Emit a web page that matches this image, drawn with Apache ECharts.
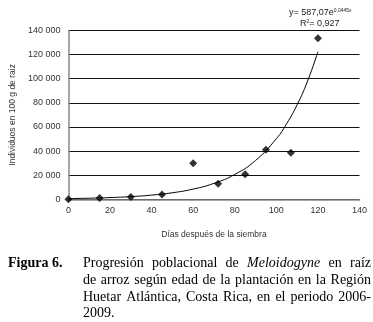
<!DOCTYPE html>
<html><head><meta charset="utf-8">
<script src="https://cdn.jsdelivr.net/npm/echarts@6/dist/echarts.min.js"></script>
<style>html,body{margin:0;padding:0;background:#fff}#c{width:373px;height:322px}</style>
</head><body><div id="c"></div>
<script>
var days = [0, 15, 30, 45, 60, 72, 85, 95, 107, 120];
var individuos = [0, 1000, 2000, 4000, 30000, 12800, 20800, 41000, 38700, 133500];
var trendDays = [0, 10, 20, 30, 40, 50, 60, 70, 80, 90, 100, 105, 110, 115, 120];
var trendValues = [587, 916, 1430, 2231, 3481, 5432, 8477, 13228, 20643, 32212, 50270, 62790, 78440, 97980, 122400];
var xTicks = [0, 20, 40, 60, 80, 100, 120, 140];
var yTicks = [0, 20000, 40000, 60000, 80000, 100000, 120000, 140000];
var xTitle = 'Días después de la siembra';
var yTitle = 'Individuos en 100 g de raiz';
var captionLabel = 'Figura 6.';
var captionLines = [
  [['Progresión',0],['poblacional',0],['de',0],['Meloidogyne',1],['en',0],['raíz',0]],
  [['de',0],['arroz',0],['según',0],['edad',0],['de',0],['la',0],['plantación',0],['en',0],['la',0],['Región',0]],
  [['Huetar',0],['Atlántica,',0],['Costa',0],['Rica,',0],['en',0],['el',0],['periodo',0],['2006-',0]],
  [['2009.',0]]
];

var chart = echarts.init(document.getElementById('c'));
function fmt(v){ return String(v).replace(/\B(?=(\d{3})+(?!\d))/g, ' '); }

var ctx = document.createElement('canvas').getContext('2d');
var serif = '"Liberation Serif","Times New Roman",serif';
var fs = 14;
var graphics = [];
var x0 = 83, x1 = 371, tops = [256.5, 273.5, 290, 306.5];
graphics.push({type:'text', x:8, y:tops[0], style:{text:captionLabel, font:'bold '+fs+'px '+serif, fill:'#000', textVerticalAlign:'top'}});
captionLines.forEach(function(line, li){
  var widths = line.map(function(w){ ctx.font = (w[1]?'italic ':'')+fs+'px '+serif; return ctx.measureText(w[0]).width; });
  var total = widths.reduce(function(a,b){return a+b;},0);
  var justify = li < captionLines.length-1 && line.length>1;
  var gap = justify ? (x1-x0-total)/(line.length-1) : ctx.measureText(' ').width;
  var x = x0;
  line.forEach(function(w,i){
    graphics.push({type:'text', x:x, y:tops[li], style:{text:w[0], font:(w[1]?'italic ':'')+fs+'px '+serif, fill:'#000', textVerticalAlign:'top'}});
    x += widths[i] + gap;
  });
});
graphics.push({type:'text', x:289, y:8, style:{
  rich:{n:{fontSize:9, fontFamily:'Liberation Sans, Arial', fill:'#222'}, s:{fontSize:5, fontFamily:'Liberation Sans, Arial', fill:'#222', verticalAlign:'top', padding:[0,0,5,0]}},
  text:'{n|y= 587,07e}{s|0,0445x}'
}});
graphics.push({type:'text', x:300, y:19, style:{
  rich:{n:{fontSize:9, fontFamily:'Liberation Sans, Arial', fill:'#222'}, s:{fontSize:5, fontFamily:'Liberation Sans, Arial', fill:'#222', padding:[0,0,4,0]}},
  text:'{n|R}{s|2}{n|= 0,927}'
}});

chart.setOption({
  animation:false,
  backgroundColor:'#fff',
  grid:{left:63, right:13.5, top:30.5, bottom:122.7},
  xAxis:{type:'value', min:0, max:140, interval:20,
    name:xTitle, nameLocation:'middle', nameGap:31,
    nameTextStyle:{fontSize:8.5, color:'#333', fontFamily:'Liberation Sans, Arial'},
    axisLine:{lineStyle:{color:'#888', width:1.5}},
    axisTick:{show:false},
    splitLine:{show:false},
    axisLabel:{fontSize:9, color:'#333', fontFamily:'Liberation Sans, Arial', margin:7,
      formatter:function(v){ return xTicks.indexOf(v)>=0 ? String(v) : ''; }}
  },
  yAxis:{type:'value', min:0, max:140000, interval:20000,
    name:yTitle, nameLocation:'middle', nameGap:47, nameRotate:90,
    nameTextStyle:{fontSize:8.5, color:'#333', fontFamily:'Liberation Sans, Arial'},
    axisLine:{show:true, lineStyle:{color:'#888', width:1.5}},
    axisTick:{show:false},
    splitLine:{lineStyle:{color:'#111', width:1}},
    axisLabel:{fontSize:9, color:'#333', fontFamily:'Liberation Sans, Arial', margin:8,
      formatter:function(v){ return yTicks.indexOf(v)>=0 ? fmt(v) : ''; }}
  },
  series:[
    {type:'line', data:trendDays.map(function(d,i){return [d,trendValues[i]];}), smooth:true, showSymbol:false,
     lineStyle:{color:'#000', width:1}, z:2},
    {type:'scatter', data:days.map(function(d,i){return [d,individuos[i]];}), symbol:'diamond', symbolSize:8,
     itemStyle:{color:'#000'}, z:3}
  ],
  graphic:graphics
});
</script></body></html>
